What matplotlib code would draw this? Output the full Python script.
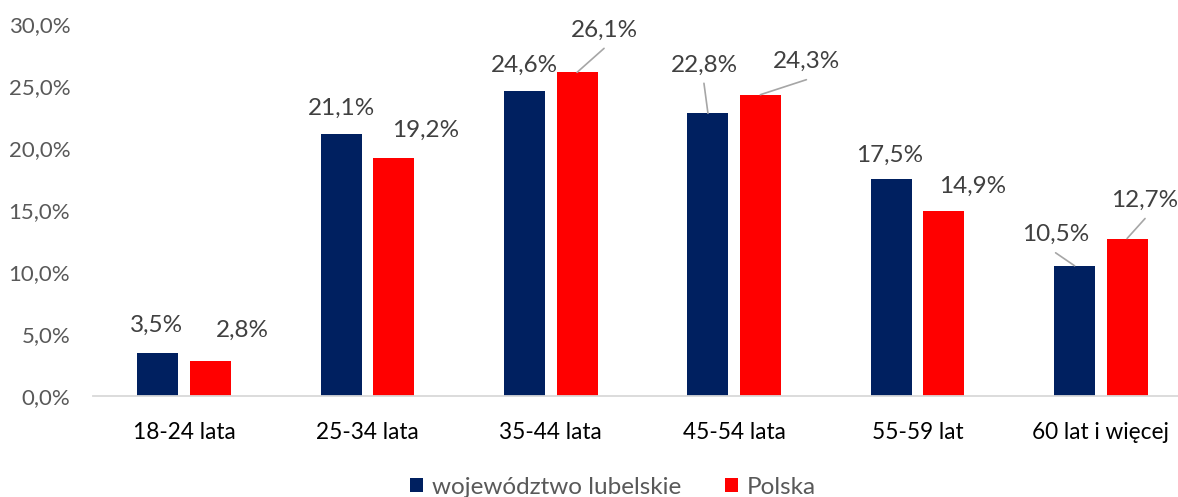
import matplotlib
matplotlib.use("Agg")
import matplotlib.pyplot as plt
import numpy as np

categories = ["18-24 lata", "25-34 lata", "35-44 lata", "45-54 lata", "55-59 lat", "60 lat i więcej"]
lubelskie = [3.5, 21.1, 24.6, 22.8, 17.5, 10.5]
polska = [2.8, 19.2, 26.1, 24.3, 14.9, 12.7]
series_names = ["województwo lubelskie", "Polska"]
yticks = [0, 5, 10, 15, 20, 25, 30]

# label offsets in pixels (dx, dy) from bar top centre, and whether a leader line is drawn
lub_off = [(-1, 27, False), (0, 26, False), (0, 26, False), (-4, 48, True), (-2, 24, False), (-19, 31, True)]
pol_off = [(32, 31, False), (32, 28, False), (27, 42, True), (46, 33, True), (29, 25, False), (18, 38, True)]

plt.rcParams['font.family'] = ['Lato', 'DejaVu Sans']
NAVY = "#002060"
RED = "#FF0000"

W, H = 1178, 497
fig = plt.figure(figsize=(W / 100, H / 100), dpi=100)
ax = fig.add_axes([92.5 / W, 101 / H, 1100 / W, 372 / H])

x = np.arange(len(categories))
bw = 0.224
off = 0.143
b1 = ax.bar(x - off, lubelskie, bw, color=NAVY, label=series_names[0], zorder=2)
b2 = ax.bar(x + off, polska, bw, color=RED, label=series_names[1], zorder=2)

ax.set_xlim(-0.5, len(categories) - 0.5)
ax.set_ylim(0, 30)
ax.set_yticks(yticks)
ax.set_yticklabels([f"{v:.1f}%".replace(".", ",") for v in yticks], fontsize=16, color="#595959")
ax.set_xticks(x)
ax.set_xticklabels(categories, fontsize=16.3, color="#000000")
ax.tick_params(axis='both', length=0)
ax.tick_params(axis='y', pad=16)
ax.tick_params(axis='x', pad=19)
for s in ["top", "right", "left"]:
    ax.spines[s].set_visible(False)
ax.spines["bottom"].set_color("#D9D9D9")
ax.spines["bottom"].set_linewidth(1.3)


def label(xc, v, o):
    dx, dy, lead = o
    txt = f"{v:.1f}%".replace(".", ",")
    ax.annotate(txt, (xc, v), xytext=(dx, dy), textcoords="offset pixels",
                ha="center", va="center", fontsize=17.5, color="#404040", zorder=4)
    if lead:
        ax.annotate("", (xc, v), xytext=(dx, dy - 18), textcoords="offset pixels",
                    arrowprops=dict(arrowstyle="-", color="#A6A6A6", lw=1.2,
                                    shrinkA=0, shrinkB=0), zorder=3)


for i in range(len(categories)):
    label(x[i] - off, lubelskie[i], lub_off[i])
    label(x[i] + off, polska[i], pol_off[i])

fig.legend(handles=[b1, b2], labels=series_names, loc="center",
           bbox_to_anchor=(613 / W, 1 - 487 / H), ncol=2, frameon=False,
           fontsize=17.5, labelcolor="#595959", handlelength=0.55, handleheight=0.55,
           handletextpad=0.35, columnspacing=1.8)

fig.savefig("out.png", dpi=100)
